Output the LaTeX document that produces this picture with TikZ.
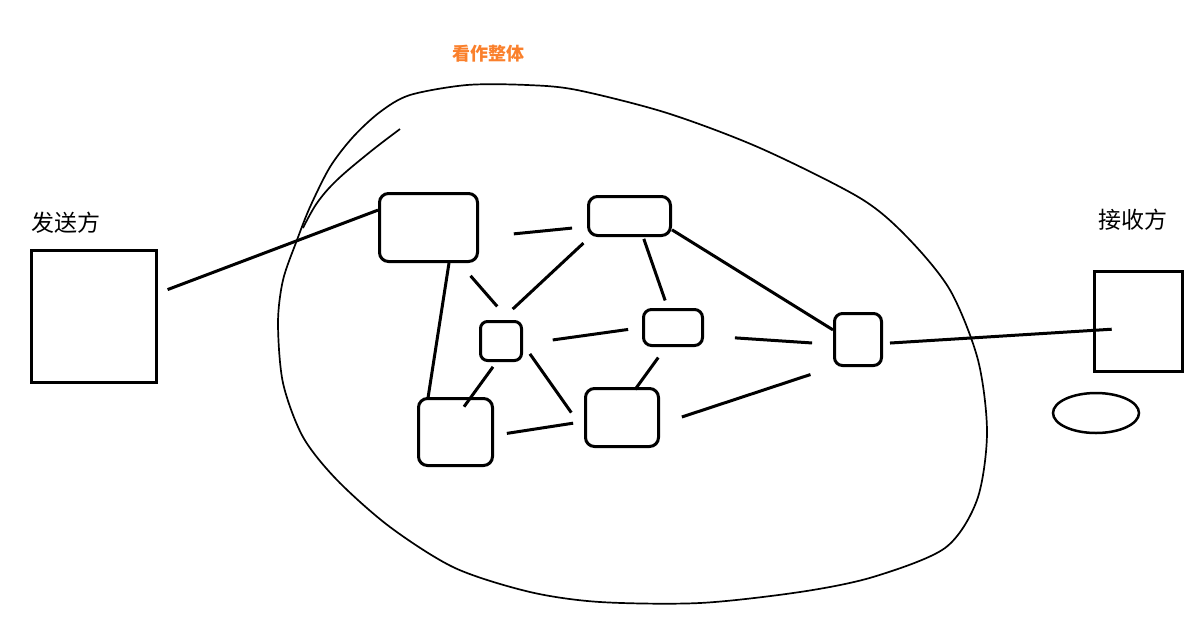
\documentclass[tikz,border=0pt]{standalone}
\usepackage{fontspec}
\setmainfont{Noto Sans CJK SC}
\usetikzlibrary{shapes.geometric}
\definecolor{arancio}{RGB}{250,128,44}

\begin{document}
\begin{tikzpicture}[x=1pt, y=-1pt,
    nodo/.style={draw=black, line width=3pt, rounded corners=9pt, inner sep=0pt},
    riquadro/.style={draw=black, line width=3.5pt, inner sep=0pt},
    linea/.style={line width=3pt},
    bordo/.style={line width=1.7pt, line join=round}]

  \useasboundingbox (0,0) rectangle (1197,625);

  % mittente e destinatario
  \node[riquadro, minimum width=125pt, minimum height=132pt] (S) at (94,316.5) {};
  \node[riquadro, minimum width=88pt, minimum height=100pt] (R) at (1138.5,321.5) {};
  \node[font=\fontsize{23}{25}\selectfont] (ls) at (66,223) {发送方};
  \node[font=\fontsize{23}{25}\selectfont] (lr) at (1133,220) {接收方};
  \node[draw, line width=2.5pt, ellipse, minimum width=86pt, minimum height=40pt] (O) at (1096,413) {};

  % contorno della rete
  \draw[bordo] plot[smooth cycle, tension=.5] coordinates {
    (410,95) (467,85) (527,85) (577,90) (667,113) (760,148) (860,198)
    (907,237) (950,290) (978,360) (987,433) (977,500) (945,548) (873,577)
    (800,592) (700,603) (600,602) (530,592) (455,568) (390,527) (337,480)
    (303,437) (283,383) (278,323) (283,280) (297,240) (310,207) (330,167)
    (353,137) (380,112)};
  \draw[bordo] plot[smooth, tension=.6] coordinates {(400,129) (370,152) (337,180) (317,203) (303,228)};
  \node[font=\fontsize{18}{20}\selectfont\bfseries, text=arancio] (tit) at (488,54) {看作整体};

  % nodi interni
  \node[nodo, minimum width=98pt, minimum height=68pt] (A) at (428.5,227.5) {};
  \node[nodo, minimum width=82pt, minimum height=39pt] (B) at (629.5,216) {};
  \node[nodo, minimum width=41pt, minimum height=39pt, rounded corners=7pt] (C) at (501,341) {};
  \node[nodo, minimum width=59pt, minimum height=36pt, rounded corners=8pt] (D) at (673,327.5) {};
  \node[nodo, minimum width=74pt, minimum height=67pt] (E) at (455.5,432) {};
  \node[nodo, minimum width=73pt, minimum height=58pt] (F) at (622,417.5) {};
  \node[nodo, minimum width=47pt, minimum height=52pt, rounded corners=8pt] (G) at (858,339.5) {};

  % collegamenti
  \draw[linea, shorten <=10pt] (S.20) -- (A.161);
  \draw[linea, shorten <=35pt, shorten >=15pt] (A.-11) -- (B.194);
  \draw[linea] (A.-60) -- (E.128);
  \draw[linea, shorten <=17pt, shorten >=18pt] (A.-49) -- (C.69);
  \draw[linea, shorten <=9pt, shorten >=16pt] (B.-152) -- (C.90);
  \draw[linea, shorten <=2pt, shorten >=8pt] (B.-57) -- (D.105);
  \draw[linea] (B.-18) -- (G.159);
  \draw[linea, shorten <=30pt, shorten >=14pt] (C.-8) -- (D.180);
  \draw[linea, shorten <=6pt, shorten >=-12pt] (C.-102) -- (E.66);
  \draw[linea, shorten <=12pt, shorten >=22pt] (C.-8) -- (F.199);
  \draw[linea, shorten <=13pt, shorten >=-3pt] (D.-110) -- (F.64);
  \draw[linea, shorten <=31pt, shorten >=21pt] (D.-15) -- (G.191);
  \draw[linea, shorten <=13pt, shorten >=11pt] (E.-5) -- (F.186);
  \draw[linea, shorten <=23pt, shorten >=24pt] (F.-10) -- (G.228);
  \draw[linea, shorten <=7pt, shorten >=-19pt] (G.-9) -- (R.191);
\end{tikzpicture}
\end{document}
